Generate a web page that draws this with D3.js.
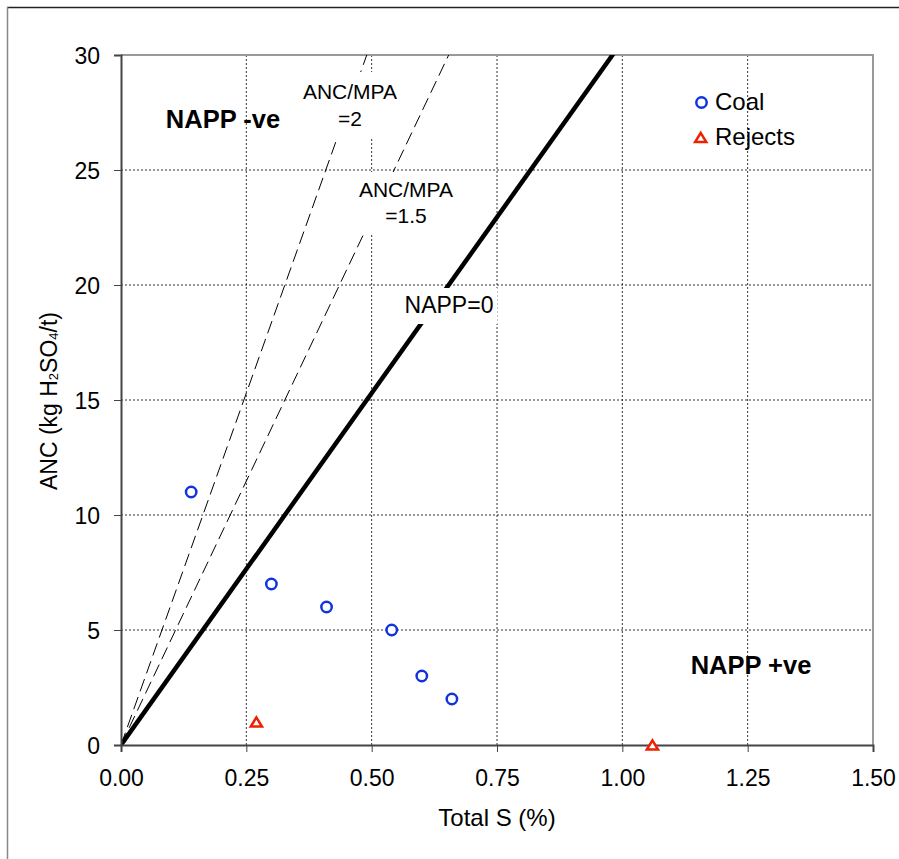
<!DOCTYPE html>
<html>
<head>
<meta charset="utf-8">
<script src="https://cdn.jsdelivr.net/npm/d3@7"></script>
<style>
  body { margin: 0; background: white; }
  text { font-family: "Liberation Sans", Arial, sans-serif; }
</style>
</head>
<body>
<script>
const width = 899, height = 859;

// data
const coalS = [0.14, 0.30, 0.41, 0.54, 0.60, 0.66];
const coalANC = [11, 7, 6, 5, 3, 2];
const rejectsS = [0.27, 1.06];
const rejectsANC = [1, 0];
const xTicks = [0, 0.25, 0.5, 0.75, 1.0, 1.25, 1.5];
const yTicks = [0, 5, 10, 15, 20, 25, 30];
// ANC/MPA ratio lines, MPA = 30.6 * S
const ratios = [1, 1.5, 2];

const margin = {left: 121, top: 55, right: 899 - 873, bottom: 859 - 745};

const svg = d3.select("body").append("svg")
    .attr("width", width)
    .attr("height", height);

svg.append("rect")
    .attr("width", width)
    .attr("height", height)
    .attr("fill", "white");

// outer frame
svg.append("line").attr("x1", 7).attr("x2", width).attr("y1", 7.5).attr("y2", 7.5)
    .attr("stroke", "#222").attr("stroke-width", 1.5);
svg.append("line").attr("x1", 7.5).attr("x2", 7.5).attr("y1", 7).attr("y2", height)
    .attr("stroke", "#888").attr("stroke-width", 1.5);

const x = d3.scaleLinear().domain([0, 1.5]).range([margin.left, width - margin.right]);
const y = d3.scaleLinear().domain([0, 30]).range([height - margin.bottom, margin.top]);

// grid
svg.append("g").selectAll("line").data(xTicks.slice(1, -1)).join("line")
    .attr("x1", d => x(d)).attr("x2", d => x(d))
    .attr("y1", y(0)).attr("y2", y(30))
    .attr("stroke", "#333").attr("stroke-width", 1).attr("stroke-dasharray", "2,2");
svg.append("g").selectAll("line").data(yTicks.slice(1, -1)).join("line")
    .attr("x1", x(0)).attr("x2", x(1.5))
    .attr("y1", d => y(d)).attr("y2", d => y(d))
    .attr("stroke", "#333").attr("stroke-width", 1).attr("stroke-dasharray", "2,2");

// plot border top/right
svg.append("path")
    .attr("d", `M${x(0)},${y(30)}H${x(1.5)}V${y(0)}`)
    .attr("fill", "none").attr("stroke", "#999").attr("stroke-width", 2);

// clip for ratio lines
svg.append("clipPath").attr("id", "clip").append("rect")
    .attr("x", x(0)).attr("y", y(30)).attr("width", x(1.5) - x(0)).attr("height", y(0) - y(30));

const lines = svg.append("g").attr("clip-path", "url(#clip)");
ratios.forEach(r => {
  const sMax = 30 / (30.6 * r);
  lines.append("line")
      .attr("x1", x(0)).attr("y1", y(0))
      .attr("x2", x(sMax * 1.05)).attr("y2", y(30 * 1.05))
      .attr("stroke", "#000")
      .attr("stroke-width", r === 1 ? 4.5 : 1)
      .attr("stroke-dasharray", r === 1 ? null : "13,6");
});

// axes
const xAxis = svg.append("g")
    .attr("transform", `translate(0,${y(0)})`)
    .call(d3.axisBottom(x).tickValues(xTicks).tickFormat(d3.format(".2f")).tickSize(7).tickPadding(18));
const yAxis = svg.append("g")
    .attr("transform", `translate(${x(0)},0)`)
    .call(d3.axisLeft(y).tickValues(yTicks).tickSize(7).tickPadding(14));
[xAxis, yAxis].forEach(a => {
  a.select(".domain").attr("stroke", "#444").attr("stroke-width", 2);
  a.selectAll(".tick line").attr("stroke", "#444").attr("stroke-width", 1);
  a.selectAll("text").attr("font-size", 23).attr("fill", "#000")
      .style("font-family", "'Liberation Sans', Arial, sans-serif");
});
xAxis.selectAll("text").attr("dy", "0.71em");
yAxis.selectAll("text").attr("dy", "0.35em");

// boxed labels on the lines
function boxLabel(lines, cx, cy, size, gap, padTop, padBottom) {
  const g = svg.append("g");
  const t = g.append("text").attr("text-anchor", "middle").attr("font-size", size);
  lines.forEach((s, i) => t.append("tspan").attr("x", cx).attr("y", cy + i * gap).text(s));
  const b = t.node().getBBox();
  g.insert("rect", "text")
      .attr("x", b.x - 4).attr("y", b.y - padTop)
      .attr("width", b.width + 8).attr("height", b.height + padTop + padBottom)
      .attr("fill", "white");
}
boxLabel(["ANC/MPA", "=2"], 350, 99, 21, 27, 8, 8);
boxLabel(["ANC/MPA", "=1.5"], 406, 197, 21, 26, 6, 6);
boxLabel(["NAPP=0"], 449, 313, 23, 0, 4, 6);

svg.append("text").attr("x", 223).attr("y", 128).attr("text-anchor", "middle")
    .attr("font-size", 25.5).attr("font-weight", "bold").text("NAPP -ve");
svg.append("text").attr("x", 751).attr("y", 674).attr("text-anchor", "middle")
    .attr("font-size", 25.5).attr("font-weight", "bold").text("NAPP +ve");

// points
const coal = coalS.map((s, i) => ({s, anc: coalANC[i]}));
const rejects = rejectsS.map((s, i) => ({s, anc: rejectsANC[i]}));

svg.append("g").selectAll("circle").data(coal).join("circle")
    .attr("cx", d => x(d.s)).attr("cy", d => y(d.anc)).attr("r", 5.2)
    .attr("fill", "white").attr("stroke", "#1133dd").attr("stroke-width", 2.5);

const tri = "M0,-4.6L5.6,4.6L-5.6,4.6Z";
svg.append("g").selectAll("path").data(rejects).join("path")
    .attr("d", tri)
    .attr("transform", d => `translate(${x(d.s)},${y(d.anc)})`)
    .attr("fill", "white").attr("stroke", "#ee2200").attr("stroke-width", 2.5);

// legend
const legend = svg.append("g");
legend.append("circle").attr("cx", 701.5).attr("cy", 102.5).attr("r", 5.2)
    .attr("fill", "white").attr("stroke", "#1133dd").attr("stroke-width", 2.5);
legend.append("text").attr("x", 715).attr("y", 110).attr("font-size", 24).text("Coal");
legend.append("path").attr("d", tri).attr("transform", "translate(700.7,137.5)")
    .attr("fill", "white").attr("stroke", "#ee2200").attr("stroke-width", 2.5);
legend.append("text").attr("x", 715).attr("y", 144.5).attr("font-size", 24).text("Rejects");

// axis titles
svg.append("text").attr("x", 497).attr("y", 826).attr("text-anchor", "middle")
    .attr("font-size", 24).text("Total S (%)");
const yt = svg.append("text").attr("transform", "translate(57,401) rotate(-90)")
    .attr("text-anchor", "middle").attr("font-size", 23);
yt.append("tspan").text("ANC (kg H");
yt.append("tspan").attr("font-size", 13).attr("dy", 1).text("2");
yt.append("tspan").attr("dy", -1).text("SO");
yt.append("tspan").attr("font-size", 13).attr("dy", 1).text("4");
yt.append("tspan").attr("dy", -1).text("/t)");
</script>
</body>
</html>
